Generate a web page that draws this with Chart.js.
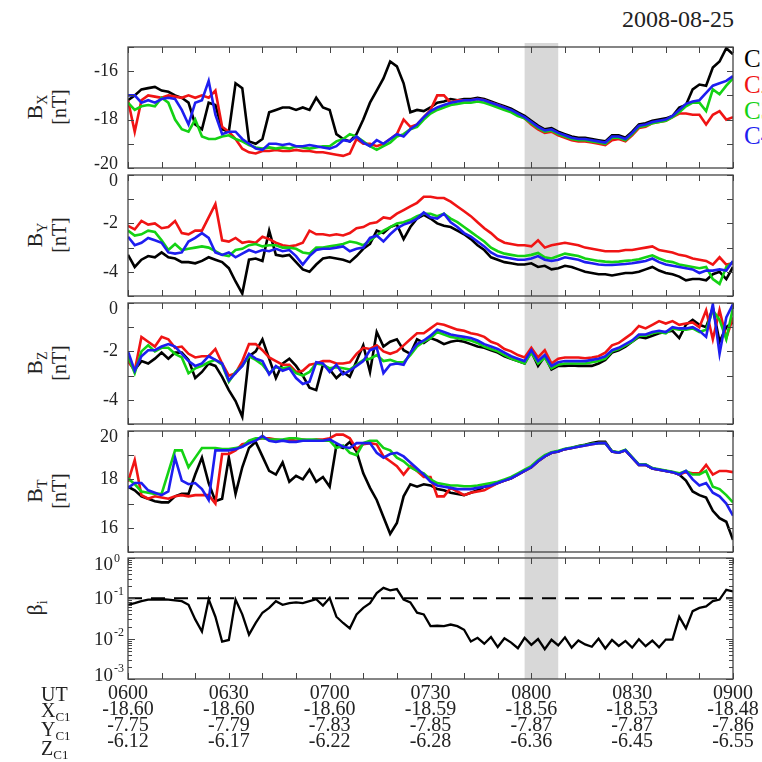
<!DOCTYPE html>
<html>
<head>
<meta charset="utf-8">
<title>Cluster magnetic field 2008-08-25</title>
<script src="https://cdn.jsdelivr.net/npm/chart.js@4.4.1/dist/chart.umd.min.js"></script>
<style>
  html, body { margin: 0; padding: 0; background: #fff; }
  #fig { position: relative; width: 762px; height: 762px; overflow: hidden;
         font-family: "Liberation Serif", "Times New Roman", serif; color: #222; }
  #fig canvas { position: absolute; left: 0; }
  .ylab { position: absolute; white-space: nowrap; font-size: 22px; line-height: 22px;
          transform: translate(-50%, -50%) rotate(-90deg); }
  .ylab .s { font-size: 14px; position: relative; top: 5px; }
  .unit { font-size: 20px; }
  #date { position: absolute; right: 28px; top: 6px; font-size: 24px; }
  .sc { position: absolute; left: 744px; font-size: 25px; line-height: 25px; transform: translateY(-50%); }
  #rows { position: absolute; left: 41px; top: 686px; font-size: 20px; line-height: 16px; }
  #rows .s { font-size: 13px; position: relative; top: 4px; }
</style>
</head>
<body>
<div id="fig">
  <div id="date">2008-08-25</div>
  <div class="sc" style="top:58px;color:#000">C1</div>
  <div class="sc" style="top:84px;color:#f01414">C2</div>
  <div class="sc" style="top:110px;color:#14d214">C3</div>
  <div class="sc" style="top:135px;color:#1e1ef0">C4</div>

  <div class="ylab" style="left:36px;top:107px">B<span class="s">X</span></div>
  <div class="ylab unit" style="left:59px;top:107px">[nT]</div>
  <div class="ylab" style="left:36px;top:235px">B<span class="s">Y</span></div>
  <div class="ylab unit" style="left:59px;top:235px">[nT]</div>
  <div class="ylab" style="left:36px;top:363px">B<span class="s">Z</span></div>
  <div class="ylab unit" style="left:59px;top:363px">[nT]</div>
  <div class="ylab" style="left:36px;top:491px">B<span class="s">T</span></div>
  <div class="ylab unit" style="left:59px;top:491px">[nT]</div>
  <div class="ylab" style="left:36px;top:608px">&beta;<span class="s">i</span></div>

  <canvas id="cBx" width="762" height="129" style="top:43px"></canvas>
  <canvas id="cBy" width="762" height="129" style="top:171px"></canvas>
  <canvas id="cBz" width="762" height="129" style="top:299px"></canvas>
  <canvas id="cBt" width="762" height="129" style="top:427px"></canvas>
  <canvas id="cBeta" width="762" height="208" style="top:554px"></canvas>

  <div id="rows">UT<br>X<span class="s">C1</span><br>Y<span class="s">C1</span><br>Z<span class="s">C1</span></div>
</div>

<script>
// ---------- time axis (minutes after 06:00 UT) ----------
const minutes = [0,2,4,6,8,10,12,14,16,18,20,22,24,26,28,30,32,34,36,38,40,42,44,46,48,50,
  52,54,56,58,60,62,64,66,68,70,72,74,76,78,80,82,84,86,88,90,92,94,96,98,100,102,104,106,
  108,110,112,114,116,118,120,122,124,126,128,130,132,134,136,138,140,142,144,146,148,150,
  152,154,156,158,160,162,164,166,168,170,172,174,176,178,180];

// ---------- Bx [nT] ----------
const bxC1 = [-17.2,-17.0,-16.75,-16.7,-16.65,-16.8,-16.85,-17.0,-17.1,-17.3,-18.2,-18.4,-17.3,-17.4,-18.4,-18.5,-16.5,-16.7,-18.9,-19.0,-18.8,-17.7,-17.6,-17.5,-17.5,-17.6,-17.5,-17.6,-17.1,-17.5,-17.6,-18.6,-18.8,-18.9,-18.6,-18.0,-17.3,-16.8,-16.3,-15.6,-15.8,-16.5,-17.7,-17.6,
  -17.65,-17.5,-17.3,-17.25,-17.15,-17.2,-17.15,-17.15,-17.1,-17.15,-17.25,-17.35,-17.45,-17.55,-17.7,-17.85,-18.05,-18.25,-18.4,-18.35,-18.5,-18.6,-18.7,-18.75,-18.75,-18.8,-18.85,-18.9,-18.65,-18.65,-18.75,-18.5,-18.2,-18.15,-18.05,-18.0,-17.95,-17.85,-17.5,-17.4,-16.75,-16.55,-16.6,-15.85,-15.6,-15.05,-15.3];
const bxC2 = [-17.2,-18.5,-17.2,-17.0,-17.05,-17.1,-17.0,-17.05,-17.1,-17.0,-17.1,-17.0,-17.1,-16.8,-18.3,-18.5,-18.8,-19.2,-19.35,-19.4,-19.3,-19.3,-19.25,-19.3,-19.3,-19.25,-19.3,-19.3,-19.35,-19.35,-19.4,-19.45,-19.5,-19.4,-18.8,-19.0,-19.0,-19.1,-19.0,-18.8,-18.6,-18.0,-18.3,-18.2,
  -17.9,-17.6,-17.0,-17.0,-17.3,-17.2,-17.2,-17.2,-17.15,-17.2,-17.3,-17.4,-17.5,-17.65,-17.8,-17.95,-18.2,-18.4,-18.55,-18.5,-18.65,-18.75,-18.85,-18.9,-18.9,-18.95,-19.0,-19.05,-18.85,-18.8,-18.9,-18.65,-18.35,-18.3,-18.15,-18.1,-18.05,-17.9,-17.75,-17.75,-17.8,-17.8,-18.2,-17.8,-17.65,-18.0,-17.9];
const bxC3 = [-17.3,-17.6,-17.45,-17.4,-17.45,-17.1,-17.3,-18.0,-18.4,-18.5,-18.0,-18.7,-18.8,-18.8,-18.7,-18.65,-18.8,-18.9,-19.05,-19.15,-19.2,-19.15,-19.2,-19.15,-19.2,-19.1,-19.15,-19.2,-19.15,-19.1,-19.1,-18.9,-18.8,-18.6,-18.7,-18.9,-19.1,-19.25,-19.1,-18.95,-18.7,-18.6,-18.4,-18.3,
  -18.0,-17.75,-17.6,-17.5,-17.4,-17.35,-17.3,-17.3,-17.25,-17.3,-17.4,-17.5,-17.6,-17.7,-17.85,-17.95,-18.15,-18.35,-18.5,-18.45,-18.6,-18.7,-18.8,-18.85,-18.85,-18.9,-18.95,-19.0,-18.75,-18.75,-18.85,-18.6,-18.3,-18.25,-18.15,-18.1,-18.05,-17.9,-17.7,-17.45,-17.3,-17.3,-17.65,-16.75,-16.95,-16.6,-16.3];
const bxC4 = [-17.0,-17.0,-17.3,-17.2,-17.3,-17.15,-17.1,-17.15,-17.6,-18.2,-17.3,-17.2,-16.4,-17.8,-18.6,-18.5,-18.5,-18.8,-19.0,-19.2,-19.25,-19.0,-19.0,-19.05,-19.0,-19.1,-19.1,-19.05,-19.1,-19.15,-19.2,-19.1,-18.85,-18.9,-18.7,-18.95,-19.1,-18.85,-19.0,-18.8,-18.6,-18.7,-18.4,-18.2,
  -17.9,-17.65,-17.5,-17.4,-17.3,-17.25,-17.2,-17.2,-17.15,-17.2,-17.3,-17.4,-17.5,-17.6,-17.75,-17.9,-18.1,-18.3,-18.45,-18.4,-18.55,-18.65,-18.75,-18.8,-18.8,-18.85,-18.9,-18.95,-18.7,-18.7,-18.8,-18.55,-18.25,-18.2,-18.1,-18.05,-18.0,-17.85,-17.6,-17.35,-17.25,-17.2,-16.9,-16.6,-16.5,-16.4,-16.2];

// ---------- By [nT] ----------
const byC1 = [-3.3,-3.8,-3.5,-3.35,-3.4,-3.2,-3.4,-3.45,-3.6,-3.6,-3.65,-3.55,-3.4,-3.5,-3.6,-3.85,-4.4,-4.9,-3.5,-3.45,-3.55,-2.3,-3.3,-3.35,-3.3,-3.6,-3.9,-4.0,-3.7,-3.45,-3.4,-3.45,-3.5,-3.6,-3.35,-3.05,-2.85,-2.3,-2.4,-2.15,-2.05,-2.65,-2.15,-1.8,
  -1.65,-1.8,-2.0,-2.1,-2.15,-2.3,-2.45,-2.65,-2.9,-3.1,-3.4,-3.5,-3.6,-3.65,-3.7,-3.7,-3.65,-3.8,-3.75,-3.9,-3.85,-3.75,-3.8,-3.9,-4.0,-4.05,-4.1,-4.1,-4.15,-4.1,-4.05,-4.05,-4.0,-3.9,-3.8,-3.95,-4.05,-4.1,-4.2,-4.35,-4.3,-4.3,-4.35,-4.1,-4.0,-4.3,-3.8];
const byC2 = [-2.1,-2.25,-1.9,-2.05,-2.0,-2.2,-2.15,-1.9,-2.4,-2.45,-2.3,-2.3,-1.75,-1.2,-2.7,-2.75,-2.6,-2.8,-2.75,-2.8,-2.55,-2.65,-2.8,-2.9,-2.95,-2.9,-2.8,-2.3,-2.45,-2.45,-2.5,-2.45,-2.5,-2.4,-2.2,-2.15,-2.0,-1.95,-1.75,-1.8,-1.6,-1.45,-1.3,-1.15,
  -0.9,-0.9,-0.95,-0.95,-1.1,-1.3,-1.5,-1.7,-1.95,-2.2,-2.4,-2.65,-2.8,-2.85,-2.9,-2.9,-2.95,-2.7,-3.0,-2.9,-2.85,-2.8,-2.85,-2.9,-3.0,-3.05,-3.1,-3.15,-3.15,-3.15,-3.1,-3.1,-3.05,-3.0,-2.95,-3.1,-3.15,-3.2,-3.3,-3.35,-3.45,-3.5,-3.55,-3.7,-3.4,-3.7,-3.65];
const byC3 = [-2.3,-2.5,-2.45,-2.3,-2.35,-2.7,-3.1,-2.85,-3.1,-3.05,-3.0,-2.95,-3.0,-3.15,-3.3,-3.35,-3.1,-3.05,-2.9,-2.85,-2.95,-2.9,-2.9,-3.0,-3.0,-3.05,-3.2,-3.25,-3.0,-3.0,-2.95,-2.9,-2.85,-2.75,-2.8,-2.9,-2.7,-2.5,-2.3,-2.15,-2.0,-1.95,-1.85,-1.7,
  -1.6,-1.6,-1.7,-1.6,-1.8,-1.95,-2.15,-2.35,-2.55,-2.75,-3.0,-3.15,-3.25,-3.3,-3.35,-3.35,-3.3,-3.22,-3.4,-3.45,-3.35,-3.25,-3.3,-3.35,-3.45,-3.5,-3.55,-3.58,-3.6,-3.58,-3.55,-3.52,-3.48,-3.4,-3.32,-3.45,-3.55,-3.6,-3.7,-3.75,-3.8,-3.85,-3.8,-4.3,-4.5,-3.8,-3.6];
const byC4 = [-2.55,-2.9,-2.8,-2.6,-2.7,-2.8,-3.2,-3.25,-3.2,-2.75,-2.6,-2.4,-2.6,-3.2,-3.3,-3.2,-3.4,-3.25,-3.1,-3.2,-3.1,-3.15,-3.05,-3.15,-3.1,-3.35,-3.7,-3.35,-3.1,-3.05,-3.05,-3.0,-2.95,-3.15,-3.05,-3.0,-2.6,-2.5,-2.75,-2.45,-2.2,-2.05,-1.95,-1.8,
  -1.55,-1.75,-1.8,-1.6,-1.95,-2.15,-2.4,-2.55,-2.75,-2.95,-3.2,-3.35,-3.4,-3.45,-3.5,-3.5,-3.45,-3.35,-3.5,-3.55,-3.5,-3.4,-3.45,-3.5,-3.6,-3.65,-3.7,-3.72,-3.72,-3.7,-3.68,-3.65,-3.6,-3.55,-3.45,-3.6,-3.7,-3.75,-3.8,-3.85,-3.9,-4.05,-3.95,-3.95,-3.9,-3.95,-3.55];

// ---------- Bz [nT] ----------
const bzC1 = [-2.4,-2.75,-2.4,-2.5,-2.3,-2.05,-2.3,-2.05,-2.05,-2.35,-3.1,-2.85,-2.5,-2.6,-3.05,-3.6,-4.05,-4.7,-2.2,-2.0,-1.5,-2.3,-3.1,-2.5,-2.3,-2.6,-3.0,-3.5,-3.6,-2.55,-2.75,-3.1,-2.85,-3.05,-2.4,-1.75,-2.85,-1.2,-1.8,-1.6,-1.5,-1.95,-2.1,-1.5,
  -1.65,-1.45,-1.55,-1.7,-1.6,-1.55,-1.6,-1.7,-1.8,-1.85,-1.95,-2.05,-2.2,-2.3,-2.4,-2.5,-2.0,-2.6,-2.2,-2.75,-2.6,-2.6,-2.58,-2.6,-2.6,-2.6,-2.5,-2.35,-2.05,-1.95,-1.8,-1.6,-1.4,-1.45,-1.35,-1.25,-1.2,-1.15,-1.45,-0.9,-0.7,-0.9,-1.0,-0.2,-1.6,-1.0,-0.8];
const bzC2 = [-2.4,-2.8,-1.4,-1.6,-1.8,-1.4,-1.5,-1.85,-1.8,-2.1,-2.25,-2.2,-2.2,-1.9,-2.5,-3.0,-2.9,-2.4,-1.7,-1.7,-1.95,-2.25,-2.4,-2.55,-2.55,-2.85,-2.8,-2.55,-2.5,-2.4,-2.4,-2.5,-2.5,-2.45,-2.1,-1.85,-1.9,-1.75,-2.0,-2.1,-2.0,-1.75,-1.5,-1.25,
  -1.25,-1.05,-0.85,-0.9,-1.0,-1.1,-1.15,-1.25,-1.3,-1.4,-1.6,-1.7,-1.9,-2.0,-2.15,-2.25,-1.85,-2.25,-1.95,-2.5,-2.3,-2.25,-2.25,-2.25,-2.28,-2.25,-2.2,-2.05,-1.75,-1.65,-1.45,-1.25,-0.95,-1.05,-0.9,-0.75,-0.85,-0.75,-0.9,-0.85,-0.8,-1.0,-0.3,-1.5,-0.3,-1.45,-0.6];
const bzC3 = [-2.2,-2.9,-2.0,-1.75,-2.0,-1.85,-1.85,-2.1,-2.25,-2.9,-2.7,-2.6,-2.45,-2.35,-2.55,-3.25,-2.85,-2.6,-2.2,-2.35,-2.55,-2.9,-2.65,-2.7,-2.65,-2.9,-3.0,-2.85,-2.5,-2.55,-2.7,-2.65,-2.7,-2.75,-2.55,-2.35,-2.3,-2.15,-2.4,-2.35,-2.45,-2.45,-2.15,-1.8,
  -1.6,-1.45,-1.2,-1.3,-1.4,-1.45,-1.5,-1.55,-1.65,-1.8,-1.9,-2.0,-2.15,-2.3,-2.4,-2.5,-2.05,-2.5,-2.25,-2.7,-2.55,-2.5,-2.5,-2.5,-2.5,-2.45,-2.4,-2.3,-2.0,-1.9,-1.75,-1.6,-1.35,-1.35,-1.25,-1.2,-1.25,-1.05,-1.1,-1.1,-1.05,-1.2,-1.1,-0.3,-0.7,-1.5,-0.2];
const bzC4 = [-2.0,-2.8,-2.2,-1.95,-1.95,-1.8,-1.7,-1.8,-2.1,-2.4,-2.6,-2.5,-2.2,-2.35,-2.5,-3.2,-2.9,-2.6,-2.1,-2.3,-2.4,-2.95,-2.6,-2.8,-2.7,-3.1,-3.35,-3.25,-2.45,-2.5,-2.85,-2.55,-2.95,-2.8,-2.6,-2.4,-1.95,-1.85,-2.9,-2.55,-2.5,-2.55,-2.05,-1.7,
  -1.55,-1.35,-1.1,-1.2,-1.3,-1.35,-1.4,-1.45,-1.55,-1.7,-1.8,-1.9,-2.05,-2.2,-2.3,-2.4,-1.95,-2.4,-2.15,-2.6,-2.45,-2.4,-2.4,-2.4,-2.4,-2.35,-2.3,-2.2,-1.95,-1.85,-1.7,-1.55,-1.3,-1.3,-1.2,-1.15,-1.2,-1.0,-1.05,-1.05,-1.0,-1.15,-1.4,-0.05,-2.1,-0.6,-0.05];

// ---------- Bt [nT] ----------
const btC1 = [17.7,17.55,17.3,17.2,17.1,17.05,17.05,17.3,17.4,17.4,18.2,18.9,17.85,17.1,17.2,18.9,17.4,18.5,19.3,19.55,18.95,18.35,18.2,18.7,17.9,18.15,18.0,18.4,17.9,18.1,17.7,19.4,19.3,19.55,19.15,18.25,17.65,17.15,16.45,15.75,16.2,17.3,17.8,17.7,
  17.8,17.75,17.6,17.55,17.45,17.4,17.35,17.45,17.55,17.7,17.75,17.85,17.95,18.05,18.2,18.35,18.5,18.75,18.95,19.1,19.15,19.25,19.3,19.38,19.43,19.5,19.55,19.55,19.15,19.1,19.2,18.9,18.6,18.6,18.45,18.4,18.35,18.3,18.2,17.95,17.5,17.35,17.25,16.7,16.4,16.25,15.5];
const btC2 = [17.9,18.8,17.35,17.2,17.3,17.25,17.2,17.3,17.35,17.3,17.35,17.35,17.35,17.0,19.05,19.05,19.2,19.45,19.5,19.65,19.7,19.7,19.65,19.6,19.65,19.6,19.65,19.6,19.65,19.65,19.7,19.85,19.85,19.7,19.25,19.45,19.5,19.45,18.95,18.75,18.55,18.2,18.55,18.35,
  18.1,18.1,17.3,17.3,17.65,17.5,17.35,17.45,17.5,17.55,17.7,17.85,17.95,18.05,18.2,18.35,18.5,18.75,18.95,19.1,19.15,19.25,19.3,19.35,19.4,19.45,19.5,19.5,19.15,19.1,19.2,18.9,18.6,18.6,18.45,18.4,18.35,18.3,18.2,18.3,18.25,18.25,18.6,18.2,18.35,18.35,18.3];
const btC3 = [18.05,17.8,17.5,17.45,17.4,17.4,18.3,19.2,19.2,18.5,18.9,19.3,19.3,19.3,19.25,19.25,19.3,19.35,19.6,19.7,19.7,19.65,19.65,19.65,19.7,19.7,19.65,19.65,19.65,19.6,19.6,19.3,19.4,19.1,19.0,19.5,19.6,19.6,19.3,19.2,18.9,18.75,18.5,18.35,
  18.25,18.0,17.85,17.8,17.75,17.75,17.72,17.72,17.75,17.8,17.85,17.9,18.0,18.1,18.25,18.4,18.55,18.8,19.0,19.12,19.18,19.27,19.32,19.37,19.42,19.47,19.5,19.5,19.17,19.12,19.22,18.92,18.62,18.62,18.47,18.42,18.37,18.32,18.25,18.35,18.2,18.2,18.35,17.7,17.6,17.35,17.05];
const btC4 = [17.65,17.85,17.85,17.55,17.45,17.35,17.5,18.9,17.95,17.8,17.85,17.6,17.15,19.2,19.2,19.2,19.25,19.35,19.5,19.6,19.8,19.6,19.55,19.6,19.55,19.55,19.6,19.6,19.6,19.6,19.65,19.5,19.35,19.3,19.5,19.5,19.5,19.1,18.9,19.05,19.1,18.95,18.7,18.45,
  18.2,17.9,17.75,17.7,17.65,17.6,17.6,17.6,17.65,17.7,17.75,17.85,17.95,18.05,18.2,18.35,18.5,18.75,18.95,19.1,19.15,19.25,19.3,19.35,19.4,19.45,19.5,19.5,19.15,19.1,19.2,18.9,18.6,18.6,18.45,18.4,18.35,18.3,18.2,18.35,18.0,17.75,17.85,17.45,17.3,17.0,16.5];

// ---------- ion beta (C1) ----------
const betaC1 = [0.069,0.076,0.085,0.093,0.093,0.095,0.093,0.089,0.085,0.069,0.030,0.015,0.095,0.035,0.0085,0.0093,0.093,0.040,0.0126,0.0245,0.044,0.058,0.085,0.069,0.076,0.079,0.076,0.085,0.095,0.066,0.102,0.035,0.0245,0.018,0.040,0.058,0.076,0.135,0.182,0.158,0.170,0.093,0.079,0.044,0.040,0.0204,0.0209,0.0204,0.0224,0.0204,0.0166,0.0085,0.0105,
  0.0075,0.0110,0.0062,0.0102,0.0080,0.0058,0.0105,0.0070,0.0098,0.0055,0.0094,0.0068,0.0108,0.0060,0.0090,0.0072,0.0063,0.0100,0.0057,0.0093,0.0066,0.0088,0.0060,0.0097,0.0065,0.0090,0.0061,0.0095,
  0.0095,0.035,0.018,0.048,0.058,0.063,0.085,0.093,0.162,0.148];
const betaRef = 0.1;

// ---------- shaded interval and position table ----------
const bandStart = 118, bandEnd = 128;   // 07:58 - 08:08
const utLabels = ['0600','0630','0700','0730','0800','0830','0900'];
const xC1 = ['-18.60','-18.60','-18.60','-18.59','-18.56','-18.53','-18.48'];
const yC1 = ['-7.75','-7.79','-7.83','-7.85','-7.87','-7.87','-7.86'];
const zC1 = ['-6.12','-6.17','-6.22','-6.28','-6.36','-6.45','-6.55'];

const seriesColors = ['#000000', '#f01414', '#14d214', '#1e1ef0'];
const FONT = '"Liberation Serif", "Times New Roman", serif';

// ---------- plugin: band, box, inward ticks, y labels ----------
const frame = {
  id: 'frame',
  beforeDatasetsDraw(chart, args, o) {
    const { ctx, chartArea: a, scales: { x } } = chart;
    const x0 = x.getPixelForValue(bandStart), x1 = x.getPixelForValue(bandEnd);
    ctx.save();
    ctx.fillStyle = '#d8d8d8';
    ctx.fillRect(x0, 0, x1 - x0, o.last ? a.bottom : chart.height);
    ctx.restore();
  },
  afterDraw(chart, args, o) {
    const { ctx, chartArea: a, scales: { x, y } } = chart;
    ctx.save();
    ctx.strokeStyle = '#444';
    ctx.lineWidth = 1;
    const seg = (x1, y1, x2, y2) => { ctx.beginPath(); ctx.moveTo(x1, y1); ctx.lineTo(x2, y2); ctx.stroke(); };
    x.ticks.forEach(t => {
      const px = Math.round(x.getPixelForValue(t.value)) + 0.5;
      seg(px, a.bottom, px, a.bottom - 6);
      seg(px, a.top, px, a.top + 6);
    });
    y.ticks.forEach(t => {
      let len = 6;
      if (o.log) {
        const e = Math.log10(t.value);
        const mant = t.value / Math.pow(10, Math.floor(e + 1e-9));
        if (Math.abs(mant - Math.round(mant)) > 1e-6) return;
        len = Math.abs(e - Math.round(e)) < 1e-6 ? 7 : 4;
      }
      const py = Math.round(y.getPixelForValue(t.value)) + 0.5;
      seg(a.left, py, a.left + len, py);
      seg(a.right, py, a.right - len, py);
    });
    ctx.lineWidth = 1.3;
    ctx.strokeRect(a.left, a.top, a.right - a.left, a.bottom - a.top);

    // y tick labels, kept inside the panel height
    ctx.fillStyle = '#222';
    ctx.textBaseline = 'middle';
    y.ticks.forEach(t => {
      const v = t.value;
      let py = y.getPixelForValue(v);
      py = Math.min(Math.max(py, a.top + 6.5), a.bottom - 4);
      if (o.log) {
        const e = Math.log10(v);
        if (Math.abs(e - Math.round(e)) > 1e-6) return;
        ctx.textAlign = 'right';
        ctx.font = '19px ' + FONT;
        ctx.fillText('10', a.left - 15, py + 1);
        ctx.textAlign = 'left';
        ctx.font = '12px ' + FONT;
        ctx.fillText(String(Math.round(e)), a.left - 14, py - 6);
      } else {
        if (Math.round(v) % 2 !== 0) return;
        ctx.textAlign = 'right';
        ctx.font = '18px ' + FONT;
        ctx.fillText(String(v), a.left - 10, py);
      }
    });
    ctx.restore();
  }
};

function lineSets(series) {
  return series.map((vals, i) => ({
    label: 'C' + (i + 1),
    data: minutes.map((m, k) => ({ x: m, y: vals[k] })),
    borderColor: seriesColors[i],
    borderWidth: 2.6,
    pointRadius: 0,
    tension: 0,
    order: 4 - i
  }));
}

function baseOptions(yScale, last) {
  return {
    responsive: false,
    animation: false,
    devicePixelRatio: 1,
    events: [],
    layout: { padding: { left: 0, right: 29, top: 4, bottom: last ? 0 : 4 } },
    plugins: { legend: { display: false }, tooltip: { enabled: false }, frame: { last: last, log: yScale.type === 'logarithmic' } },
    scales: {
      x: last ? {
        type: 'linear', min: 0, max: 180,
        grid: { display: false, drawTicks: false },
        border: { display: false },
        ticks: {
          stepSize: 10, autoSkip: false, maxRotation: 0, padding: 7, color: '#222',
          font: { family: FONT, size: 20, lineHeight: '16px' },
          callback: v => v % 30 === 0 ? [utLabels[v / 30], xC1[v / 30], yC1[v / 30], zC1[v / 30]] : ''
        },
        // keep the plot box aligned with the panels above
        afterFit: s => { s.height = 83; s.paddingLeft = 0; s.paddingRight = 0; }
      } : { type: 'linear', min: 0, max: 180, display: false, ticks: { stepSize: 10 } },
      y: Object.assign({
        grid: { display: false },
        border: { display: false },
        afterFit: s => { s.width = 128; }
      }, yScale)
    }
  };
}

function linearY(min, max) {
  return { type: 'linear', min: min, max: max, ticks: { stepSize: 1, display: false } };
}

function panel(id, series, min, max) {
  new Chart(document.getElementById(id), {
    type: 'line',
    data: { datasets: lineSets(series) },
    options: baseOptions(linearY(min, max), false),
    plugins: [frame]
  });
}

panel('cBx', [bxC1, bxC2, bxC3, bxC4], -20, -15);
panel('cBy', [byC1, byC2, byC3, byC4], -5, 0);
panel('cBz', [bzC1, bzC2, bzC3, bzC4], -5, 0);
panel('cBt', [btC1, btC2, btC3, btC4], 15, 20);

new Chart(document.getElementById('cBeta'), {
  type: 'line',
  data: {
    datasets: [
      {
        label: 'beta_i',
        data: minutes.map((m, k) => ({ x: m, y: betaC1[k] })),
        borderColor: '#000', borderWidth: 2.3, pointRadius: 0, tension: 0, order: 1
      },
      {
        label: 'beta = 0.1',
        data: [{ x: 0, y: betaRef }, { x: 180, y: betaRef }],
        borderColor: '#000', borderWidth: 2, borderDash: [14, 9], pointRadius: 0, order: 0
      }
    ]
  },
  options: baseOptions({ type: 'logarithmic', min: 0.001, max: 1, ticks: { display: false } }, true),
  plugins: [frame]
});
</script>
</body>
</html>
